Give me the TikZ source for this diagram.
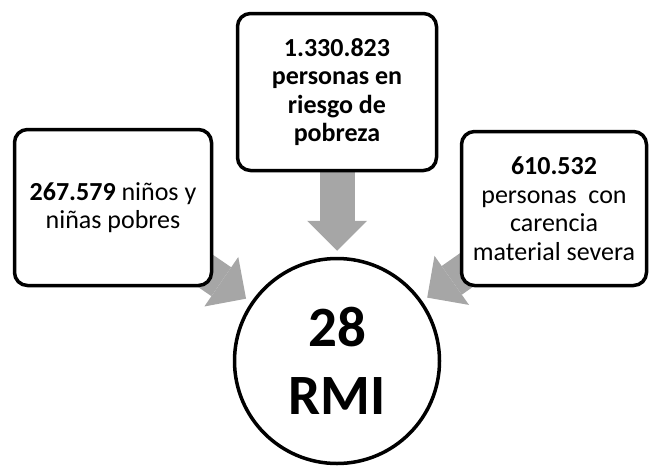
\documentclass[tikz,border=0pt]{standalone}
\usepackage{fontspec}
\setmainfont{Carlito}
\usetikzlibrary{arrows.meta,backgrounds}
\definecolor{arrowgray}{HTML}{A6A6A6}
\begin{document}
\begin{tikzpicture}[x=1pt,y=-1pt,
  box/.style={draw, line width=3.5pt, rounded corners=13pt, fill=white, align=center, inner sep=0pt, font=\fontsize{26}{28.5}\selectfont},
  hub/.style={draw, circle, line width=3.5pt, fill=white, minimum size=205pt, inner sep=0pt, align=center, font=\fontsize{57}{68}\selectfont\bfseries},
  feed/.style={draw=arrowgray, line width=35pt, shorten >=6pt, -{Triangle[width=60pt 0 0, length=30pt 0 0, line width=0pt]}}
]
\path[use as bounding box] (0,0) rectangle (650,466);
\node[box, minimum width=197pt, minimum height=156pt] (lbox) at (113,207.5) {\textbf{267.579} niños y\\niñas pobres};
\node[box, minimum width=199pt, minimum height=157pt, font=\fontsize{26}{28.5}\selectfont\bfseries] (tbox) at (337,92) {1.330.823\\personas en\\riesgo de\\pobreza};
\node[box, minimum width=185pt, minimum height=154pt] (rbox) at (554,208.5) {\textbf{610.532}\\personas\ \ con\\carencia\\material severa};
\node[hub] (hub) at (337,361) {28\\RMI};
\begin{scope}[on background layer]
  \draw[feed] (lbox.center) -- (hub);
  \draw[feed] (tbox.center) -- (hub);
  \draw[feed] (rbox.center) -- (hub);
\end{scope}
\end{tikzpicture}
\end{document}
